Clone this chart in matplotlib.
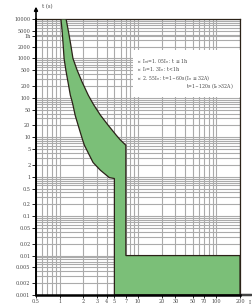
import numpy as np
import matplotlib.pyplot as plt
from matplotlib import ticker

# boundary curves of the tripping band (current in multiples of In, time in s)
left_I = [1.04, 1.08, 1.11, 1.14, 1.20, 1.28, 1.37, 1.43, 1.48, 1.58, 1.72, 1.88,
          1.97, 2.07, 2.32, 2.67, 3.3, 4.3, 5.0]
left_t = [10000, 4680, 2190, 1000, 510, 250, 117, 87, 66, 36, 20.5, 11.4,
          8.5, 6.3, 4.0, 2.3, 1.47, 0.95, 0.9]
right_I = [1.21, 1.30, 1.39, 1.48, 1.67, 1.94, 2.32, 2.52, 2.73, 3.33, 4.14, 5.26, 5.97, 7.0]
right_t = [10000, 4680, 2190, 1000, 510, 250, 117, 87, 66, 36, 20.5, 11.4, 8.5, 6.3]
inst_I = [5.0, 7.0, 200]         # instantaneous region edges
inst_t = [0.001, 0.01]

yticks = [10000, 5000, 3600, 2000, 1000, 500, 200, 100, 50, 20, 10, 5, 2, 1,
          0.5, 0.2, 0.1, 0.05, 0.02, 0.01, 0.005, 0.002, 0.001]
ylabels = ['10000', '5000', '1h', '2000', '1000', '500', '200', '100', '50', '20',
           '10', '5', '2', '1', '0.5', '0.2', '0.1', '0.05', '0.02', '0.01',
           '0.005', '0.002', '0.001']
xticks = [0.5, 1, 2, 3, 4, 5, 7, 10, 20, 30, 50, 70, 100, 200]
xlabels = ['0.5', '1', '2', '3', '4', '5', '7', '10', '20', '30', '50', '70', '100', '200']

legend_lines = [
    "\u2460  I$_{nt}$=1. 05I$_n$ : t \u2264 1h",
    "\u2461  I$_t$=1. 3I$_n$ : t<1h",
    "\u2462  2. 55I$_n$ : t=1~60s (I$_n$ \u2264 32A)",
    "t=1~120s (I$_n$>32A)",
]

serif = ['DejaVu Serif', 'Noto Sans CJK SC']

fig = plt.figure(figsize=(2.53, 3.05), dpi=100)
ax = fig.add_axes([36 / 253, 10 / 305, 204 / 253, 276 / 305])
ax.set_xscale('log')
ax.set_yscale('log')
ax.set_xlim(0.5, 200)
ax.set_ylim(0.001, 10000)

ax.xaxis.set_minor_locator(ticker.LogLocator(base=10, subs=np.arange(2, 10)))
ax.yaxis.set_minor_locator(ticker.LogLocator(base=10, subs=np.arange(2, 10)))
ax.xaxis.set_minor_formatter(ticker.NullFormatter())
ax.yaxis.set_minor_formatter(ticker.NullFormatter())
ax.grid(True, which='both', color='#ababab', lw=0.8, zorder=0)

# polygon of the band
px = list(left_I) + [inst_I[0], inst_I[2], inst_I[2], inst_I[1], inst_I[1]] + right_I[::-1]
py = list(left_t) + [inst_t[0], inst_t[0], inst_t[1], inst_t[1], right_t[-1]] + right_t[::-1]
ax.fill(px, py, facecolor='#7bbf78', edgecolor='#2b2218', lw=0.9, zorder=3)

ax.set_yticks(yticks)
ax.set_yticklabels(ylabels, family=serif, fontsize=3.5, color='#444444')
ax.set_xticks(xticks)
ax.set_xticklabels(xlabels, family=serif, fontsize=3.5, color='#444444')
ax.tick_params(axis='y', which='major', length=3, width=0.6, pad=1)
ax.tick_params(axis='x', which='major', length=2, width=0.6, pad=1)
ax.tick_params(which='minor', length=0)

for s in ['top', 'right']:
    ax.spines[s].set_linewidth(0.9)
    ax.spines[s].set_color('#2b2218')
ax.spines['left'].set_linewidth(1.4)
ax.spines['bottom'].set_linewidth(1.8)
ax.spines['left'].set_zorder(5)
ax.spines['bottom'].set_zorder(5)

# axis arrows
ax.annotate('', xy=(0, 1.055), xytext=(0, 0.99), xycoords='axes fraction',
            arrowprops=dict(arrowstyle='-|>', color='black', lw=1.2,
                            mutation_scale=5), annotation_clip=False)
ax.annotate('', xy=(1.07, 0), xytext=(0.99, 0), xycoords='axes fraction',
            arrowprops=dict(arrowstyle='-', color='#444444', lw=1.8), annotation_clip=False)
fig.text(42 / 253, 1 - 7 / 305, 't (s)', family=serif, fontsize=3.8, va='center', color='#444444')
fig.text(249 / 253, 1 - 302 / 305, 'I', family=serif, fontsize=3.8, va='center', color='#444444')

# legend box
box = plt.Rectangle((133 / 253, 1 - 97 / 305), 107 / 253, 47 / 305, transform=fig.transFigure,
                    facecolor='white', edgecolor='none', zorder=4)
fig.patches.append(box)
ys = [62, 69.5, 78, 86]
for i, (txt, yy) in enumerate(zip(legend_lines, ys)):
    if i < 3:
        fig.text(137 / 253, 1 - yy / 305, txt, family=serif, fontsize=3.3,
                 va='center', ha='left', color='#444444', zorder=6)
    else:
        fig.text(234 / 253, 1 - yy / 305, txt, family=serif, fontsize=3.3,
                 va='center', ha='right', color='#444444', zorder=6)

fig.savefig('out.png', dpi=100)
